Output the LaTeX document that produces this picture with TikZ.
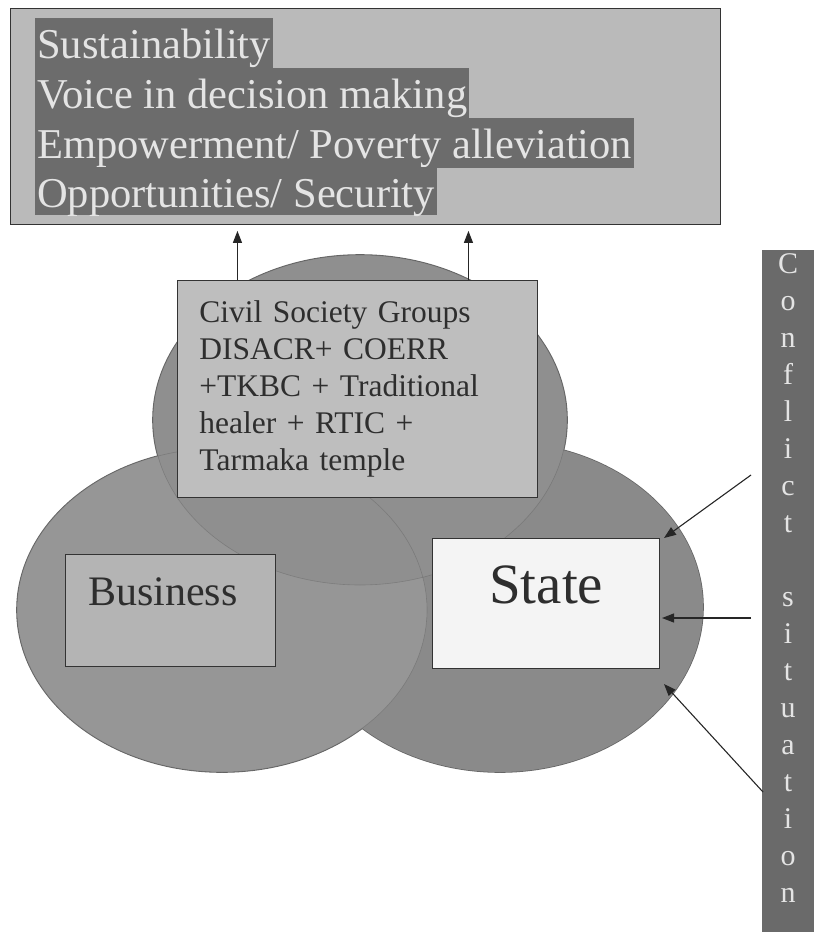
\documentclass[tikz,border=0pt]{standalone}
\usepackage{fontspec}
\setmainfont{Liberation Serif}
\usetikzlibrary{arrows.meta}
\definecolor{boxlight}{HTML}{BABABA}
\definecolor{banddark}{HTML}{6C6C6C}
\definecolor{bandtext}{HTML}{E4E4E4}
\definecolor{elltop}{HTML}{8F8F8F}
\definecolor{ellleft}{HTML}{969696}
\definecolor{ellright}{HTML}{8A8A8A}
\definecolor{civilfill}{HTML}{BEBEBE}
\definecolor{busfill}{HTML}{B4B4B4}
\definecolor{statefill}{HTML}{F4F4F4}
\definecolor{barfill}{HTML}{6A6A6A}
\definecolor{darktext}{HTML}{2E2E2E}
\begin{document}
\begin{tikzpicture}[x=1pt,y=-1pt,
  frame/.style={draw=black!80, line width=0.9pt, inner sep=0pt},
  band/.style={anchor=base west, fill=banddark, text=bandtext, inner xsep=2pt, inner ysep=0pt,
    text height=40pt, text depth=10pt, font=\fontsize{42.5}{50}\selectfont},
  arr/.style={-{Triangle[length=12pt,width=9pt]}, line width=1.1pt, draw=black!85},
  barletter/.style={anchor=base, text=bandtext, inner sep=0pt, font=\fontsize{30}{36}\selectfont},
  ellrim/.style={draw=black!60, line width=1.6pt},
  ellout/.style={draw=black!70, line width=0.6pt, draw opacity=0.3}
]
\useasboundingbox (0,0) rectangle (814,932);

% goals box
\node[frame, fill=boxlight, minimum width=710pt, minimum height=216pt, anchor=north west] (goals) at (10,8) {};
\node[band] (g1) at (35,58) {Sustainability};
\node[band] (g2) at (35,108) {Voice in decision making};
\node[band] (g3) at (35,158) {Empowerment/ Poverty alleviation};
\node[band, text depth=8pt] (g4) at (35,207) {Opportunities/ Security};

% three overlapping ellipses: outer rim, fills, faint inner arcs
\path[ellrim] (500,607) ellipse [x radius=203pt, y radius=165pt];
\path[ellrim] (222,610) ellipse [x radius=205pt, y radius=162pt];
\path[ellrim] (360,420) ellipse [x radius=207pt, y radius=165pt];
\fill[ellright] (500,607) ellipse [x radius=203pt, y radius=165pt];
\fill[ellleft] (222,610) ellipse [x radius=205pt, y radius=162pt];
\fill[elltop] (360,420) ellipse [x radius=207pt, y radius=165pt];
\path[ellout] (222,610) ellipse [x radius=205pt, y radius=162pt];
\path[ellout] (360,420) ellipse [x radius=207pt, y radius=165pt];

% civil society box
\node[frame, fill=civilfill, anchor=north west, minimum width=360pt, minimum height=217pt,
      text width=316pt, inner xsep=22pt, align=left, text=darktext,
      font=\fontsize{31.5}{37}\selectfont] (civil) at (177,280)
  {Civil Society Groups\\DISACR+ COERR\\+TKBC + Traditional\\healer + RTIC +\\Tarmaka temple};

% business and state boxes
\node[frame, fill=busfill, anchor=north west, minimum width=210pt, minimum height=112pt] (business) at (65,554) {};
\node[anchor=base west, inner sep=0pt, text=darktext, font=\fontsize{42}{48}\selectfont] (businesstext) at (88,605) {Business};
\node[frame, fill=statefill, anchor=north west, minimum width=227pt, minimum height=130pt] (state) at (432,538) {};
\node[anchor=base west, inner sep=0pt, text=darktext, font=\fontsize{57}{64}\selectfont] (statetext) at (489,603) {State};

% arrows to goals
\draw[arr] ([xshift=-120pt]civil.north) -- ([xshift=-120pt,yshift=-6pt]civil.north |- goals.south);
\draw[arr] ([xshift=111pt]civil.north) -- ([xshift=111pt,yshift=-6pt]civil.north |- goals.south);

% conflict situation bar
\node[fill=barfill, inner sep=0pt, minimum width=52pt, minimum height=682pt, anchor=north west] (bar) at (762,250) {};
\foreach \ch [count=\k from 0] in {C,o,n,f,l,i,c,t}
  \node[barletter] (ca\k) at (788,{273+37*\k}) {\ch};
\foreach \ch [count=\k from 9] in {s,i,t,u,a,t,i,o,n}
  \node[barletter] (cb\k) at (788,{273+37*\k}) {\ch};

% conflict arrows
\coordinate (s1) at (751,475);
\coordinate (s2) at (751,618);
\coordinate (s3) at (763,792);
\coordinate (t1) at (664,538);
\coordinate (t2) at (662,618);
\coordinate (t3) at (664,684);
\draw[arr] (s1) -- (t1);
\draw[arr] (s2) -- (t2);
\draw[arr] (s3) -- (t3);
\end{tikzpicture}
\end{document}
